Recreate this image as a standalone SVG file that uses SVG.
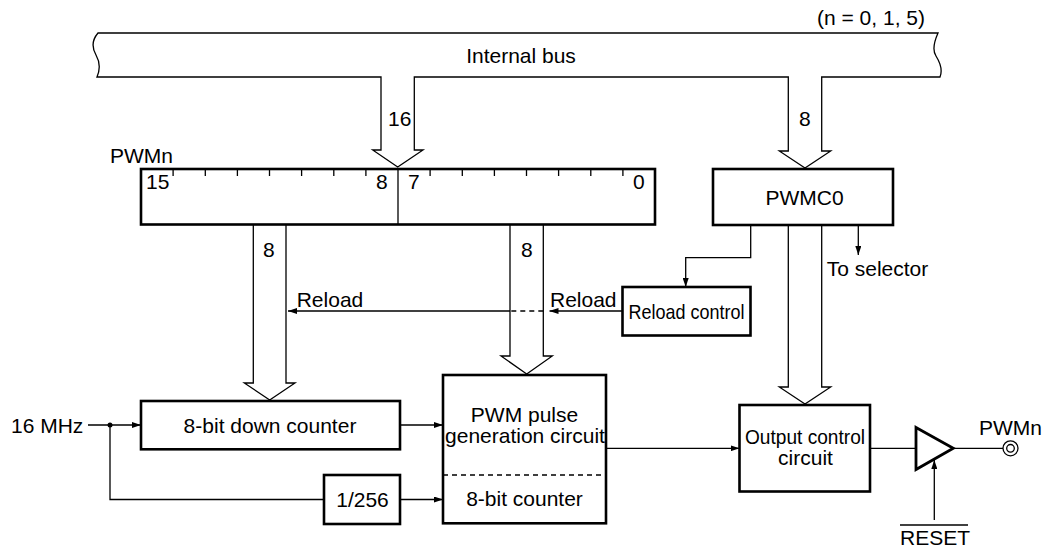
<svg xmlns="http://www.w3.org/2000/svg" width="1049" height="548" viewBox="0 0 1049 548">
<defs>
<style>
text{font-family:"Liberation Sans",Arial,sans-serif;font-size:21px;fill:#000}
.box{fill:#fff;stroke:#000;stroke-width:2.6}
.thin{fill:none;stroke:#000;stroke-width:1.3}
.bus{fill:#fff;stroke:#000;stroke-width:1.3;stroke-linejoin:miter}
.dash{fill:none;stroke:#000;stroke-width:1.3;stroke-dasharray:5 4}
.m{text-anchor:middle}
</style>
<marker id="ah" markerUnits="userSpaceOnUse" markerWidth="9" markerHeight="6" refX="9" refY="3" orient="auto">
<path d="M0,0 L9,3 L0,6 z" fill="#000"/>
</marker>
</defs>
<rect width="1049" height="548" fill="#fff"/>

<g id="internal-bus">
<path class="bus" d="M98 33 H938 C934 42 932 50 936 56 C941 64 942 72 940 77 H821.7 V151 H830.7 L805 168 L779.3 151 H788.3 V77 H414.3 V150 H423 L397.7 167 L372.7 150 H381 V77 H97 C100 70 100 62 96 55 C92 48 92 40 98 33 Z"/>
<text class="m" x="521" y="63">Internal bus</text>
<text x="925" y="25" text-anchor="end">(n = 0, 1, 5)</text>
<text x="388" y="126">16</text>
<text x="799" y="126">8</text>
</g>

<g id="connectors">
<path class="bus" d="M253.3 225 V383 H244.3 L269.7 400 L295 383 H286 V225"/>
<path class="bus" d="M510 225 V356 H501 L526.7 374 L552.3 356 H543.3 V225"/>
<path class="bus" d="M788.3 225 V387 H779.3 L805 404 L830.7 387 H821.7 V225"/>
<path class="thin" d="M622.5 311 H549.5" marker-end="url(#ah)"/>
<path class="dash" d="M543.3 311 H510"/>
<path class="thin" d="M510 311 H288" marker-end="url(#ah)"/>
<path class="thin" d="M88 425 H141" marker-end="url(#ah)"/>
<circle cx="110" cy="425" r="2.5" fill="#000"/>
<path class="thin" d="M110 425 V499.5 H324"/>
<path class="thin" d="M400 425 H443" marker-end="url(#ah)"/>
<path class="thin" d="M400 499.5 H443" marker-end="url(#ah)"/>
<path class="thin" d="M606 448.3 H739.5" marker-end="url(#ah)"/>
<path class="thin" d="M750.7 225 V257.7 H685.7 V287" marker-end="url(#ah)"/>
<path class="thin" d="M858.3 225 V255" marker-end="url(#ah)"/>
<path class="thin" d="M870 448.3 H916"/>
<path class="thin" d="M953.3 448.3 H1003"/>
<path class="thin" d="M934.3 520 V460" marker-end="url(#ah)"/>
<text x="263" y="257">8</text>
<text x="521" y="257">8</text>
<text x="296.7" y="307">Reload</text>
<text x="550" y="307">Reload</text>
<text x="826.7" y="276">To selector</text>
<text x="11" y="432.7">16 MHz</text>
</g>

<g id="pwmn-register">
<rect class="box" x="141" y="169" width="514" height="55.5"/>
<path class="thin" d="M398 169 V224.5"/>
<path class="thin" d="M173.1 169 v7 M205.3 169 v7 M237.4 169 v7 M269.5 169 v7 M301.6 169 v7 M333.8 169 v7 M365.9 169 v7 M430.1 169 v7 M462.3 169 v7 M494.4 169 v7 M526.5 169 v7 M558.6 169 v7 M590.8 169 v7 M622.9 169 v7"/>
<text x="110" y="163">PWMn</text>
<text x="146" y="189">15</text>
<text x="376" y="189">8</text>
<text x="408" y="189">7</text>
<text x="633" y="189">0</text>
</g>

<g id="pwmc0">
<rect class="box" x="713" y="169" width="180" height="56"/>
<text class="m" x="804.5" y="205">PWMC0</text>
</g>

<g id="reload-control">
<rect class="box" x="622.5" y="287" width="128" height="48.5"/>
<text class="m" x="686.5" y="319.3" textLength="116" lengthAdjust="spacingAndGlyphs">Reload control</text>
</g>

<g id="down-counter">
<rect class="box" x="141" y="401" width="259" height="48.3"/>
<text class="m" x="270" y="432.7">8-bit down counter</text>
</g>

<g id="div256">
<rect class="box" x="324" y="475" width="76" height="49"/>
<text class="m" x="362.5" y="506.7">1/256</text>
</g>

<g id="pwm-pulse">
<rect class="box" x="443" y="375" width="163" height="148.3"/>
<path class="dash" d="M443 475 H606"/>
<text class="m" x="524.5" y="421.7">PWM pulse</text>
<text class="m" x="525" y="442.7">generation circuit</text>
<text class="m" x="524.5" y="506">8-bit counter</text>
</g>

<g id="output-control">
<rect class="box" x="739.5" y="405" width="130.5" height="86.5"/>
<text class="m" x="805" y="444" textLength="120" lengthAdjust="spacingAndGlyphs">Output control</text>
<text class="m" x="805.5" y="465">circuit</text>
</g>

<g id="buffer">
<path d="M916 427.5 L953.3 448.3 L916 469.5 Z" fill="#fff" stroke="#000" stroke-width="2.8" stroke-linejoin="miter"/>
<text x="900" y="545">RESET</text>
<path class="thin" d="M900 525 H968"/>
</g>

<g id="pin-pwmn">
<circle cx="1010.5" cy="448.3" r="7.5" fill="#fff" stroke="#000" stroke-width="1.3"/>
<circle cx="1010.5" cy="448.3" r="3.8" fill="none" stroke="#000" stroke-width="1.3"/>
<text x="979" y="435">PWMn</text>
</g>
</svg>
